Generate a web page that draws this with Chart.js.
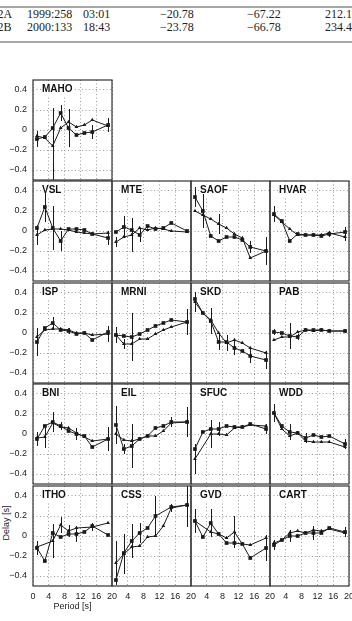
<!DOCTYPE html>
<html>
<head>
<meta charset="utf-8">
<script src="https://cdn.jsdelivr.net/npm/chart.js@4.4.0/dist/chart.umd.min.js"></script>
<style>
  body { margin: 0; background: #fff; width: 352px; height: 621px; overflow: hidden; position: relative; font-family: "Liberation Sans", Arial, sans-serif; }
  canvas { position: absolute; }
  .rule { position: absolute; left: 0; width: 352px; height: 2px; background: #a6a6a6; }
  .cell { position: absolute; font: 12px "Liberation Serif", "Times New Roman", serif; color: #222; white-space: nowrap; line-height: 14px; }
  #ylab { position: absolute; left: -16px; top: 518px; width: 44px; text-align: center; font-size: 9px; color: #222; transform: rotate(-90deg); }
</style>
</head>
<body>
<div class="rule" style="top:6px"></div>
<div class="cell" style="left:-2.5px;top:7px">2A</div>
<div class="cell" style="left:27px;top:7px">1999:258</div>
<div class="cell" style="left:83px;top:7px">03:01</div>
<div class="cell" style="left:160px;top:7px">−20.78</div>
<div class="cell" style="left:247px;top:7px">−67.22</div>
<div class="cell" style="left:325px;top:7px">212.1</div>
<div class="cell" style="left:-2.5px;top:20px">2B</div>
<div class="cell" style="left:27px;top:20px">2000:133</div>
<div class="cell" style="left:83px;top:20px">18:43</div>
<div class="cell" style="left:160px;top:20px">−23.78</div>
<div class="cell" style="left:247px;top:20px">−66.78</div>
<div class="cell" style="left:325px;top:20px">234.4</div>
<div class="rule" style="top:41px"></div>
<div id="ylab">Delay [s]</div>

<script>
// periods [s] at which the delays were measured
const periods = [1, 3, 5, 7, 9, 11, 13, 15, 19];
const xTicks = [0, 4, 8, 12, 16, 20];
const yTicks = [-0.4, -0.2, 0, 0.2, 0.4];

// two curves per station, with error bar half-lengths (null = no bar)
const maho1 = [-0.09, -0.07, 0.02, 0.17, 0.02, -0.05, -0.03, -0.02, 0.05];
const maho2 = [-0.06, -0.08, -0.16, 0.02, 0.08, 0.03, 0.05, 0.10, 0.04];
const mahoErr1 = [0.08, null, null, 0.08, 0.19, null, null, 0.07, 0.07];
const mahoErr2 = [null, null, 0.38, null, null, null, null, null, null];

const vsl1 = [0.03, 0.24, 0.03, -0.10, 0.02, 0.02, 0.01, -0.03, -0.07];
const vsl2 = [-0.04, 0.01, 0.02, 0.02, 0.01, -0.01, -0.02, -0.03, -0.02];
const vslErr1 = [null, 0.15, 0.22, 0.10, null, null, null, null, 0.07];
const vslErr2 = [0.10, null, null, null, null, null, null, null, null];

const mte1 = [-0.01, 0.04, 0.01, -0.04, 0.05, 0.02, 0.03, 0.08, 0.00];
const mte2 = [-0.11, -0.06, -0.04, 0.03, 0.01, 0.03, 0.02, 0.00, -0.01];
const mteErr1 = [null, 0.11, null, 0.07, null, null, null, null, null];
const mteErr2 = [0.05, null, 0.17, null, null, null, null, null, null];

const saof1 = [0.34, 0.20, -0.05, -0.10, -0.06, -0.06, -0.09, -0.16, -0.20];
const saof2 = [0.20, 0.16, 0.12, 0.07, 0.03, -0.03, -0.07, -0.27, -0.20];
const saofErr1 = [0.10, 0.17, null, null, null, null, null, 0.06, 0.14];
const saofErr2 = [null, null, null, 0.10, null, null, null, null, null];

const hvar1 = [0.17, 0.10, -0.10, -0.03, -0.04, -0.04, -0.05, -0.03, -0.01];
const hvar2 = [0.16, 0.09, 0.02, -0.04, -0.04, -0.04, -0.04, -0.02, -0.06];
const hvarErr1 = [0.08, null, null, null, null, null, null, 0.03, 0.05];
const hvarErr2 = [null, null, null, null, null, null, null, null, 0.04];

const isp1 = [-0.09, 0.05, 0.10, 0.03, 0.02, -0.01, 0.00, -0.07, 0.01];
const isp2 = [-0.04, 0.03, 0.04, 0.04, 0.03, 0.00, 0.00, -0.02, -0.01];
const ispErr1 = [0.14, null, 0.06, null, 0.03, null, null, null, null];
const ispErr2 = [null, null, null, null, null, null, null, null, 0.08];

const mrni1 = [-0.02, -0.03, -0.04, -0.01, 0.03, 0.07, 0.10, 0.13, 0.11];
const mrni2 = [-0.02, -0.11, -0.11, -0.06, -0.06, -0.01, 0.03, 0.06, 0.11];
const mrniErr1 = [0.08, null, 0.24, null, null, null, null, null, 0.13];
const mrniErr2 = [null, 0.05, null, null, null, null, null, null, null];

const skd1 = [0.34, 0.20, 0.12, -0.09, -0.09, -0.15, -0.18, -0.23, -0.27];
const skd2 = [0.31, 0.20, 0.13, 0.00, -0.10, -0.07, -0.10, -0.15, -0.20];
const skdErr1 = [null, null, 0.13, 0.08, null, 0.07, null, 0.07, 0.09];
const skdErr2 = [0.10, null, null, null, 0.08, null, null, null, null];

const pab1 = [0.01, 0.00, -0.03, -0.04, 0.03, 0.03, 0.03, 0.02, 0.02];
const pab2 = [-0.07, -0.04, -0.04, 0.01, 0.03, 0.02, 0.03, 0.02, 0.02];
const pabErr1 = [0.03, null, 0.13, 0.03, null, null, null, null, null];
const pabErr2 = [null, null, null, null, null, null, null, null, 0.02];

const bni1 = [-0.05, 0.08, 0.12, 0.08, 0.03, 0.00, -0.02, -0.13, -0.05];
const bni2 = [-0.04, -0.03, 0.11, 0.07, 0.06, 0.01, -0.03, -0.07, -0.05];
const bniErr1 = [0.07, null, 0.10, 0.04, null, 0.06, null, null, 0.12];
const bniErr2 = [null, 0.11, null, null, null, null, null, null, null];

const eil1 = [0.09, -0.15, -0.12, -0.05, -0.02, 0.06, 0.08, 0.12, 0.12];
const eil2 = [0.00, -0.06, -0.07, -0.05, -0.02, -0.02, 0.03, 0.11, 0.12];
const eilErr1 = [0.19, 0.05, 0.22, null, null, null, null, 0.05, 0.15];
const eilErr2 = [null, null, null, null, null, null, null, null, null];

const sfuc1 = [-0.15, 0.02, 0.05, 0.05, 0.08, 0.07, 0.07, 0.10, 0.05];
const sfuc2 = [-0.25, null, 0.00, 0.00, -0.01, 0.06, 0.07, 0.09, 0.08];
const sfucErr1 = [null, null, null, 0.07, null, null, null, null, 0.05];
const sfucErr2 = [0.15, null, 0.14, null, null, null, null, null, null];

const wdd1 = [0.21, 0.08, 0.02, 0.01, -0.04, -0.01, -0.03, -0.02, -0.10];
const wdd2 = [0.21, 0.05, -0.02, 0.01, -0.07, -0.08, -0.08, -0.08, -0.13];
const wddErr1 = [0.09, null, 0.08, null, 0.05, null, null, null, 0.05];
const wddErr2 = [null, null, null, null, null, null, null, null, null];

const itho1 = [-0.12, -0.25, 0.03, -0.01, 0.02, 0.02, 0.04, 0.10, 0.01];
const itho2 = [-0.11, null, -0.05, 0.11, 0.05, 0.08, null, 0.09, 0.13];
const ithoErr1 = [0.07, null, null, null, null, 0.08, null, null, null];
const ithoErr2 = [null, null, 0.17, 0.08, 0.06, null, null, 0.04, null];

const css1 = [-0.44, -0.17, -0.05, 0.03, 0.08, 0.20, null, 0.29, 0.31];
const css2 = [-0.27, -0.18, -0.11, -0.10, -0.01, 0.00, 0.10, 0.28, 0.31];
const cssErr1 = [null, null, 0.17, 0.10, null, 0.20, null, null, 0.22];
const cssErr2 = [0.22, 0.20, null, null, null, null, null, 0.04, null];

const gvd1 = [0.15, -0.01, 0.13, 0.02, -0.07, -0.07, -0.08, -0.22, -0.12];
const gvd2 = [0.15, null, 0.04, 0.02, -0.02, 0.04, -0.08, -0.09, -0.02];
const gvdErr1 = [0.12, null, 0.14, null, null, null, null, null, 0.13];
const gvdErr2 = [null, null, null, null, null, 0.16, null, null, null];

const cart1 = [-0.09, -0.04, 0.00, 0.00, 0.03, 0.03, 0.03, 0.08, 0.04];
const cart2 = [-0.07, -0.04, 0.03, 0.05, 0.03, 0.06, 0.05, 0.07, 0.03];
const cartErr1 = [0.05, null, 0.06, null, null, 0.07, null, null, 0.05];
const cartErr2 = [null, null, null, null, null, null, null, null, null];

// panel placement: [column, row, name, series]
const panels = [
  [0, 0, 'MAHO', maho1, maho2, mahoErr1, mahoErr2],
  [0, 1, 'VSL', vsl1, vsl2, vslErr1, vslErr2],
  [1, 1, 'MTE', mte1, mte2, mteErr1, mteErr2],
  [2, 1, 'SAOF', saof1, saof2, saofErr1, saofErr2],
  [3, 1, 'HVAR', hvar1, hvar2, hvarErr1, hvarErr2],
  [0, 2, 'ISP', isp1, isp2, ispErr1, ispErr2],
  [1, 2, 'MRNI', mrni1, mrni2, mrniErr1, mrniErr2],
  [2, 2, 'SKD', skd1, skd2, skdErr1, skdErr2],
  [3, 2, 'PAB', pab1, pab2, pabErr1, pabErr2],
  [0, 3, 'BNI', bni1, bni2, bniErr1, bniErr2],
  [1, 3, 'EIL', eil1, eil2, eilErr1, eilErr2],
  [2, 3, 'SFUC', sfuc1, sfuc2, sfucErr1, sfucErr2],
  [3, 3, 'WDD', wdd1, wdd2, wddErr1, wddErr2],
  [0, 4, 'ITHO', itho1, itho2, ithoErr1, ithoErr2],
  [1, 4, 'CSS', css1, css2, cssErr1, cssErr2],
  [2, 4, 'GVD', gvd1, gvd2, gvdErr1, gvdErr2],
  [3, 4, 'CART', cart1, cart2, cartErr1, cartErr2]
];

const colX = [33, 112, 191, 270];
const rowY = [80, 181, 283, 384, 486];
const PW = 79, PH = 100, PADL = 33, PADT = 4, PADR = 10, XH = 36;
const ink = '#1a1a1a';

const errorBars = {
  id: 'errorBars',
  afterDatasetsDraw(chart) {
    const { ctx, chartArea: a } = chart;
    const y = chart.scales.y;
    ctx.save();
    ctx.beginPath();
    ctx.rect(a.left, a.top, a.width, a.height);
    ctx.clip();
    ctx.strokeStyle = ink;
    ctx.lineWidth = 1;
    chart.data.datasets.forEach((ds, i) => {
      const meta = chart.getDatasetMeta(i);
      ds.errors.forEach((e, j) => {
        const v = ds.data[j].y;
        if (e == null || v == null) return;
        const px = Math.round(meta.data[j].x) + 0.5;
        ctx.beginPath();
        ctx.moveTo(px, y.getPixelForValue(v - e));
        ctx.lineTo(px, y.getPixelForValue(v + e));
        ctx.stroke();
      });
    });
    ctx.restore();
  }
};

const frame = {
  id: 'frame',
  beforeDatasetsDraw(chart, args, opts) {
    const { ctx, chartArea: a } = chart;
    ctx.save();
    ctx.font = 'bold 10px "Liberation Sans", Arial, sans-serif';
    const w = ctx.measureText(opts.label).width;
    ctx.fillStyle = '#fff';
    ctx.fillRect(a.left + 8, a.top + 4, w + 2, 11);
    ctx.fillStyle = '#111';
    ctx.textBaseline = 'middle';
    ctx.fillText(opts.label, a.left + 9, a.top + 9.5);
    ctx.restore();
  },
  afterDraw(chart) {
    const { ctx, chartArea: a } = chart;
    ctx.save();
    ctx.strokeStyle = '#333';
    ctx.lineWidth = 1.2;
    ctx.strokeRect(a.left, a.top, a.width, a.height);
    ctx.restore();
  }
};

const fmtY = v => v === 0 ? '0' : (v < 0 ? '−' : '') + Math.abs(v).toFixed(1);

panels.forEach(p => {
  const [col, row, name, s1, s2, e1, e2] = p;
  const bottom = row === 4;
  const c = document.createElement('canvas');
  c.width = PADL + PW + PADR;
  c.height = PADT + PH + XH;
  c.style.left = (colX[col] - PADL) + 'px';
  c.style.top = (rowY[row] - PADT) + 'px';
  document.body.appendChild(c);

  const mk = (vals, errs, style, r) => ({
    data: vals.map((v, i) => ({ x: periods[i], y: v })),
    errors: errs,
    borderColor: ink,
    backgroundColor: ink,
    borderWidth: 1,
    pointStyle: style,
    pointRadius: r,
    pointBorderWidth: 0,
    spanGaps: true,
    tension: 0
  });

  new Chart(c.getContext('2d'), {
    type: 'line',
    data: { datasets: [mk(s1, e1, 'rect', 2.6), mk(s2, e2, 'triangle', 2.2)] },
    options: {
      animation: false,
      responsive: false,
      events: [],
      layout: { padding: { top: PADT, right: PADR, left: 0, bottom: 0 } },
      plugins: { legend: { display: false }, tooltip: { enabled: false }, frame: { label: name } },
      scales: {
        x: {
          type: 'linear', min: 0, max: 20,
          afterBuildTicks: s => { s.ticks = xTicks.map(v => ({ value: v })); },
          afterFit: s => { s.height = XH; s.paddingLeft = 0; s.paddingRight = 0; },
          grid: { color: '#9a9a9a', drawTicks: false },
          border: { display: false, dash: [1, 2.5] },
          ticks: {
            display: bottom, padding: 5, color: '#222', maxRotation: 0, autoSkip: false,
            font: { family: '"Liberation Sans", Arial, sans-serif', size: 9 },
            callback: v => (col > 0 && v === 0) ? '' : String(v)
          },
          title: {
            display: bottom && col === 0, text: 'Period [s]', color: '#222',
            font: { family: '"Liberation Sans", Arial, sans-serif', size: 9 },
            padding: { top: 0, bottom: 10 }
          }
        },
        y: {
          min: -0.5, max: 0.5,
          afterBuildTicks: s => { s.ticks = yTicks.map(v => ({ value: v })); },
          afterFit: s => { s.width = PADL; s.paddingTop = 0; s.paddingBottom = 0; },
          grid: { color: '#9a9a9a', drawTicks: false },
          border: { display: false, dash: [1, 2.5] },
          ticks: {
            display: col === 0, padding: 6, color: '#222',
            font: { family: '"Liberation Sans", Arial, sans-serif', size: 9 },
            callback: v => fmtY(v)
          }
        }
      }
    },
    plugins: [errorBars, frame]
  });
});
</script>
</body>
</html>
